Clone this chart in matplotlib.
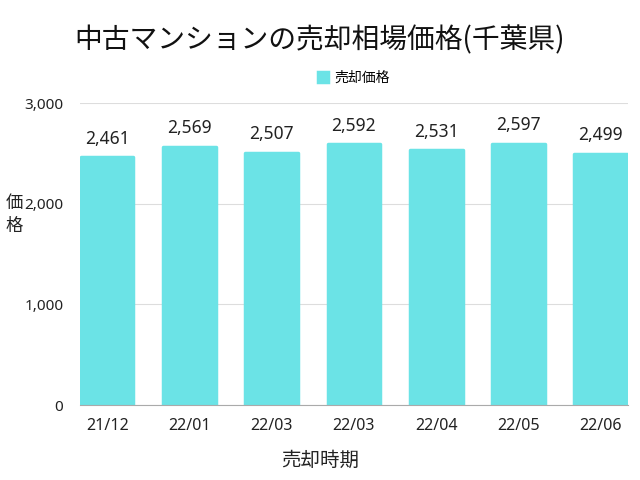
import matplotlib
matplotlib.use("Agg")
import matplotlib.pyplot as plt
from matplotlib.ticker import FuncFormatter

plt.rcParams['font.family'] = ['Noto Sans', 'Noto Sans CJK JP', 'DejaVu Sans']

categories = ["21/12", "22/01", "22/03", "22/03", "22/04", "22/05", "22/06"]
values = [2461, 2569, 2507, 2592, 2531, 2597, 2499]
series_name = "売却価格"
color = "#6BE3E6"

fig = plt.figure(figsize=(6.4, 4.8), dpi=100)
ax = fig.add_axes([0.125, 0.156, 0.856, 0.629])

x = list(range(len(categories)))
ax.bar(x, values, width=0.64, color=color, edgecolor=color, linewidth=2.5,
       joinstyle='round', label=series_name, zorder=3)
for xi, v in zip(x, values):
    ax.annotate(f"{v:,}", (xi, v), xytext=(0, 7), textcoords='offset points',
                ha='center', va='bottom', fontsize=12.5, color='#222222')

ax.set_ylim(0, 3000)
ax.set_xlim(-0.33, len(categories) - 1 + 0.33)
ax.set_yticks([0, 1000, 2000, 3000])
ax.yaxis.set_major_formatter(FuncFormatter(lambda v, p: f"{int(v):,}"))
ax.set_xticks(x)
ax.set_xticklabels(categories)
ax.tick_params(axis='both', length=0, labelsize=11, colors='#222222')
ax.tick_params(axis='x', pad=9, labelsize=11.5)
ax.tick_params(axis='y', pad=12)
ax.grid(axis='y', color='#dddddd', linewidth=0.8, zorder=0)
for s in ['top', 'right', 'left']:
    ax.spines[s].set_visible(False)
ax.spines['bottom'].set_color('#aaaaaa')
ax.spines['bottom'].set_zorder(4)

fig.text(0.5, 0.915, "中古マンションの売却相場価格(千葉県)", ha='center', va='center',
         fontsize=20, family=['Noto Sans CJK JP'], color='#111111')
fig.text(0.5, 0.04, "売却時期", ha='center', va='center', fontsize=14,
         family=['Noto Sans CJK JP'], color='#222222')
fig.text(0.022, 0.553, "価\n格", ha='center', va='center', fontsize=12.5,
         family=['Noto Sans CJK JP'], color='#222222', linespacing=1.3)

ax.legend(loc='lower center', bbox_to_anchor=(0.5, 1.02), frameon=False,
          handlelength=0.7, handleheight=0.7, handletextpad=0.5,
          prop={'family': ['Noto Sans CJK JP'], 'size': 10})

fig.savefig("out.png", dpi=100, facecolor='white')
